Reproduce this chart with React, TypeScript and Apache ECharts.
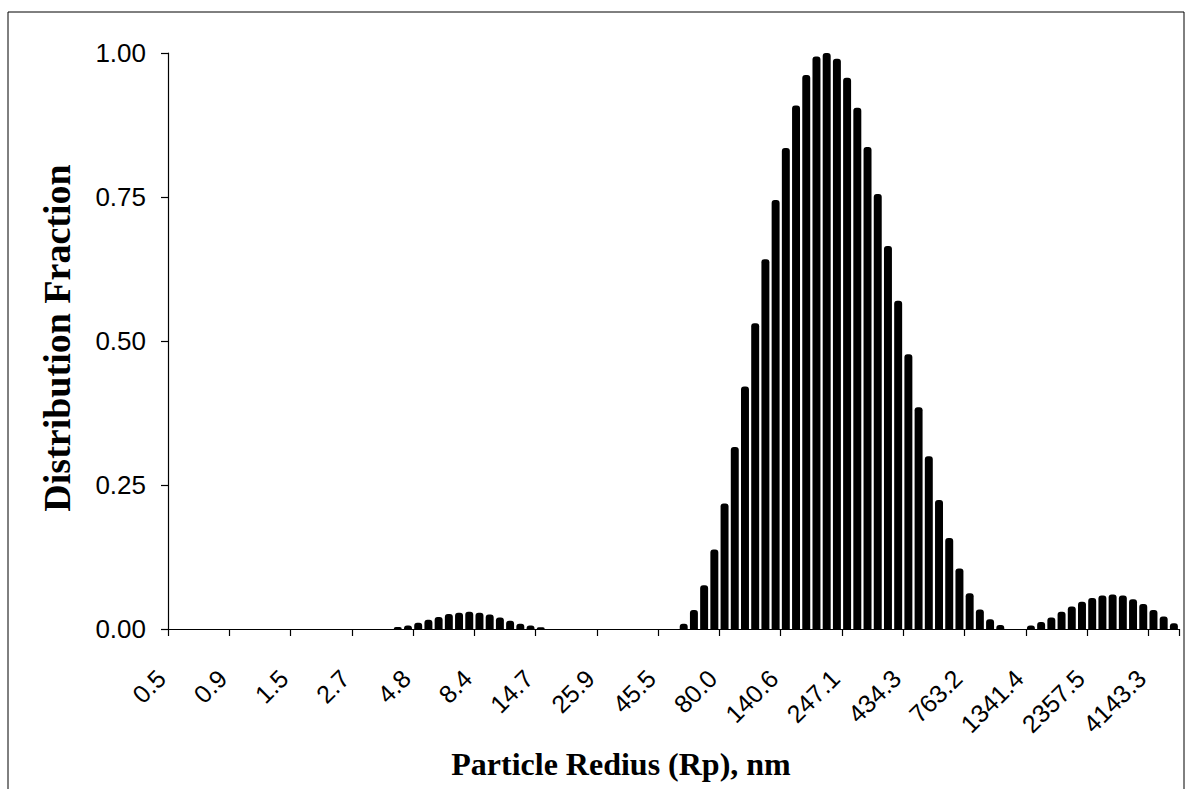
import React, { useEffect, useRef } from "react";
import * as echarts from "echarts";

const radii: string[] = [
  "0.5", "0.55", "0.60", "0.66", "0.73", "0.80",
  "0.9", "0.97", "1.06", "1.16", "1.28", "1.41",
  "1.5", "1.70", "1.86", "2.05", "2.25", "2.47",
  "2.7", "2.98", "3.28", "3.60", "3.95", "4.34",
  "4.8", "5.24", "5.76", "6.32", "6.95", "7.63",
  "8.4", "9.21", "10.12", "11.11", "12.21", "13.41",
  "14.7", "16.19", "17.78", "19.53", "21.46", "23.57",
  "25.9", "28.45", "31.25", "34.33", "37.71", "41.43",
  "45.5", "50.00", "54.92", "60.34", "66.28", "72.81",
  "80.0", "87.87", "96.53", "106.04", "116.49", "127.97",
  "140.6", "154.43", "169.65", "186.37", "204.73", "224.91",
  "247.1", "271.42", "298.16", "327.54", "359.81", "395.27",
  "434.3", "477.01", "524.01", "575.65", "632.37", "694.68",
  "763.2", "838.35", "920.96", "1011.71", "1111.40", "1220.92",
  "1341.4", "1473.36", "1618.54", "1778.03", "1953.25", "2145.71",
  "2357.5", "2589.47", "2844.63", "3124.94", "3432.87", "3771.14",
  "4143.3", "4551.05", "4999.50",
];

const fraction: number[] = [
  0, 0, 0, 0, 0, 0,
  0, 0, 0, 0, 0, 0,
  0, 0, 0, 0, 0, 0,
  0, 0, 0, 0, 0.0035, 0.006,
  0.011, 0.016, 0.021, 0.026, 0.028, 0.030,
  0.028, 0.025, 0.020, 0.0145, 0.009, 0.006,
  0.003, 0, 0, 0, 0, 0,
  0, 0, 0, 0, 0, 0,
  0, 0, 0.009, 0.033, 0.076, 0.138,
  0.218, 0.316, 0.421, 0.531, 0.642, 0.745,
  0.835, 0.909, 0.962, 0.994, 1.0, 0.990,
  0.957, 0.905, 0.837, 0.755, 0.665, 0.570,
  0.477, 0.385, 0.300, 0.224, 0.158, 0.105,
  0.062, 0.034, 0.017, 0.007, 0, 0,
  0.006, 0.012, 0.020, 0.030, 0.039, 0.0475,
  0.054, 0.058, 0.060, 0.058, 0.0516, 0.0435,
  0.033, 0.0215, 0.010,
];

const yTitle = "Distribution Fraction";
const xTitle = "Particle Redius (Rp), nm";

export default function App() {
  const ref = useRef<HTMLDivElement>(null);
  useEffect(() => {
    if (!ref.current) return;
    const chart = echarts.init(ref.current, null, { renderer: "svg" });
    const sans = "'Liberation Sans', Arial, sans-serif";
    const serif = "'Liberation Serif', 'Times New Roman', serif";
    chart.setOption({
      animation: false,
      backgroundColor: "#ffffff",
      grid: { left: 168, top: 53, width: 1011, height: 576, containLabel: false },
      xAxis: {
        type: "category",
        data: radii,
        boundaryGap: true,
        axisLine: { show: true, lineStyle: { color: "#000", width: 1.2 } },
        axisTick: { show: true, interval: 5, length: 7, alignWithLabel: false, lineStyle: { color: "#000", width: 1.2 } },
        axisLabel: {
          interval: 5,
          rotate: 45,
          margin: 33,
          padding: [0, 17, 0, 0],
          color: "#000",
          fontFamily: sans,
          fontSize: 25,
        },
        splitLine: { show: false },
      },
      yAxis: {
        type: "value",
        min: 0,
        max: 1,
        interval: 0.25,
        axisLine: { show: true, lineStyle: { color: "#000", width: 1.2 } },
        axisTick: { show: true, inside: false, length: 7, lineStyle: { color: "#000", width: 1.2 } },
        axisLabel: {
          margin: 22,
          color: "#000",
          fontFamily: sans,
          fontSize: 26,
          formatter: (v: number) => v.toFixed(2),
        },
        splitLine: { show: false },
      },
      series: [
        {
          type: "bar",
          data: fraction,
          barCategoryGap: "22%",
          itemStyle: { color: "#000", borderRadius: [3, 3, 0, 0] },
        },
      ],
      graphic: [
        {
          type: "rect",
          shape: { x: 8, y: 12, width: 1176, height: 800 },
          style: { fill: "none", stroke: "#000", lineWidth: 1 },
          silent: true,
        },
        {
          type: "text",
          x: 621,
          y: 764,
          style: {
            text: xTitle,
            fill: "#000",
            font: `bold 32px ${serif}`,
            textAlign: "center",
            textVerticalAlign: "middle",
          },
        },
        {
          type: "text",
          x: 57,
          y: 338,
          rotation: Math.PI / 2,
          style: {
            text: yTitle,
            fill: "#000",
            font: `bold 38px ${serif}`,
            textAlign: "center",
            textVerticalAlign: "middle",
          },
        },
      ],
    });
    return () => chart.dispose();
  }, []);
  return (
    <div
      ref={ref}
      style={{ position: "fixed", left: 0, top: 0, width: 1189, height: 789, background: "#fff" }}
    />
  );
}
